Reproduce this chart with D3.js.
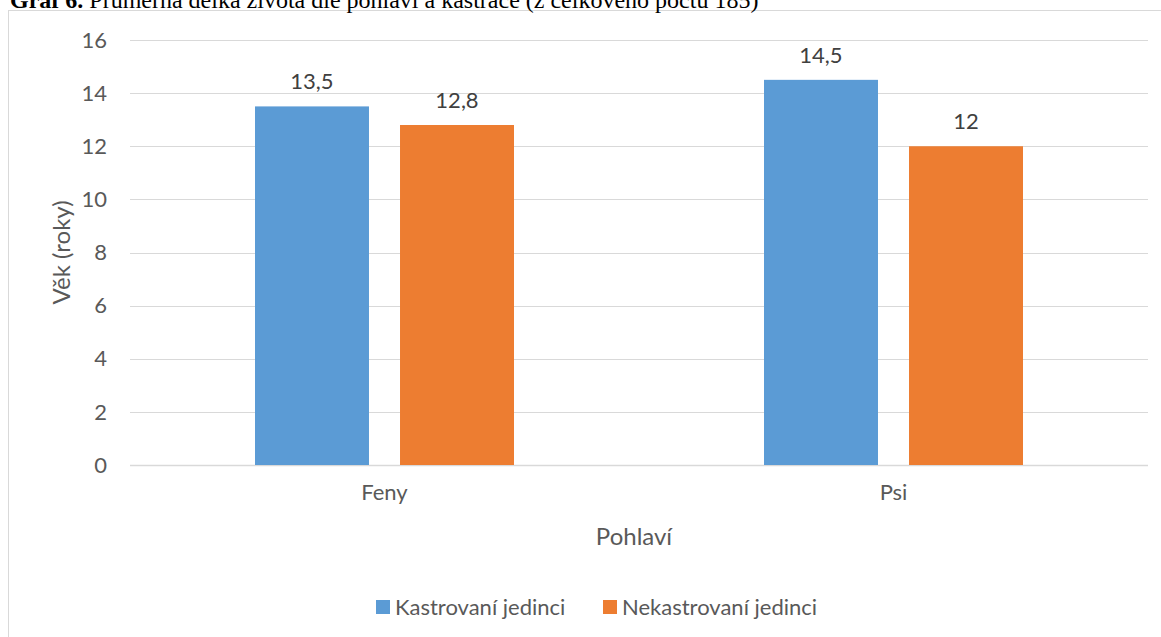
<!DOCTYPE html>
<html>
<head>
<meta charset="utf-8">
<script src="https://cdn.jsdelivr.net/npm/d3@7"></script>
<style>
  body { margin: 0; background: #fff; }
  svg text { font-family: Lato, "Open Sans", sans-serif; fill: #595959; }
</style>
</head>
<body>
<svg id="chart" width="1161" height="637"></svg>
<script>
// Data
var categories = ["Feny", "Psi"];
var seriesNames = ["Kastrovaní jedinci", "Nekastrovaní jedinci"];
var kastrovani = [13.5, 14.5];
var nekastrovani = [12.8, 12];
var valueLabels = [["13,5", "14,5"], ["12,8", "12"]];
var yTicks = [0, 2, 4, 6, 8, 10, 12, 14, 16];
var colors = ["#5B9BD5", "#ED7D31"];

var svg = d3.select("#chart"),
    width = +svg.attr("width"),
    height = +svg.attr("height");

// chart frame
svg.append("rect")
    .attr("x", 8.5).attr("y", 10.5)
    .attr("width", width).attr("height", height)
    .attr("fill", "#fff")
    .attr("stroke", "#d9d9d9");

// title from the document (cut off at top)
var title = svg.append("text")
    .attr("x", 10).attr("y", 8)
    .style("font-family", "'Liberation Serif', 'Times New Roman', serif")
    .style("font-size", "24px")
    .style("fill", "#000");
title.append("tspan").style("font-weight", "bold").style("fill", "#000").text("Graf 6.");
title.append("tspan").style("fill", "#000").text(" Průměrná délka života dle pohlaví a kastrace (z celkového počtu 185)");

var margin = { left: 130, right: 13, top: 40, bottom: 172 };
var plotW = width - margin.left - margin.right,
    plotH = height - margin.top - margin.bottom;

var g = svg.append("g").attr("transform", "translate(" + margin.left + "," + margin.top + ")");

var x0 = d3.scaleBand().domain(categories).range([0, plotW]);
var x1 = d3.scaleBand().domain(seriesNames).range([0, 259]).paddingInner(0.214);
var y = d3.scaleLinear().domain([0, 16]).range([plotH, 0]);

// gridlines
g.append("g")
    .selectAll("line")
    .data(yTicks)
    .enter()
    .append("line")
    .attr("x1", 0).attr("x2", plotW)
    .attr("y1", function (d) { return Math.round(y(d)) + 0.5; })
    .attr("y2", function (d) { return Math.round(y(d)) + 0.5; })
    .attr("stroke", "#d9d9d9")
    .attr("stroke-width", function (d) { return d === 0 ? 1.5 : 1; });

// y tick labels
g.append("g")
    .selectAll("text")
    .data(yTicks)
    .enter()
    .append("text")
    .attr("x", -23)
    .attr("y", function (d) { return y(d); })
    .attr("dy", "0.35em")
    .attr("text-anchor", "end")
    .style("font-size", "22px")
    .text(function (d) { return d; });

// bars
var series = [kastrovani, nekastrovani];
series.forEach(function (vals, si) {
    var offset = (x0.bandwidth() - 259) / 2;
    var grp = g.append("g");
    grp.selectAll("rect")
        .data(vals)
        .enter()
        .append("rect")
        .attr("x", function (d, i) { return x0(categories[i]) + offset + x1(seriesNames[si]); })
        .attr("y", function (d) { return y(d); })
        .attr("width", x1.bandwidth())
        .attr("height", function (d) { return plotH - y(d); })
        .attr("fill", colors[si]);
    grp.selectAll("text")
        .data(vals)
        .enter()
        .append("text")
        .attr("x", function (d, i) { return x0(categories[i]) + offset + x1(seriesNames[si]) + x1.bandwidth() / 2; })
        .attr("y", function (d) { return y(d) - 17; })
        .attr("text-anchor", "middle")
        .style("font-size", "22px")
        .style("fill", "#404040")
        .text(function (d, i) { return valueLabels[si][i]; });
});

// category labels
g.append("g")
    .selectAll("text")
    .data(categories)
    .enter()
    .append("text")
    .attr("x", function (d) { return x0(d) + x0.bandwidth() / 2; })
    .attr("y", plotH + 35)
    .attr("text-anchor", "middle")
    .style("font-size", "22px")
    .text(function (d) { return d; });

// axis titles
svg.append("text")
    .attr("x", margin.left + plotW / 2 - 5)
    .attr("y", 545)
    .attr("text-anchor", "middle")
    .style("font-size", "24px")
    .text("Pohlaví");

svg.append("text")
    .attr("transform", "translate(70," + (margin.top + plotH / 2) + ") rotate(-90)")
    .attr("text-anchor", "middle")
    .style("font-size", "24px")
    .text("Věk (roky)");

// legend
var legendX = [376, 603];
var legend = svg.append("g");
seriesNames.forEach(function (name, i) {
    legend.append("rect")
        .attr("x", legendX[i]).attr("y", 600)
        .attr("width", 14).attr("height", 14)
        .attr("fill", colors[i]);
    legend.append("text")
        .attr("x", legendX[i] + 19).attr("y", 615)
        .style("font-size", "22px")
        .text(name);
});
</script>
</body>
</html>
